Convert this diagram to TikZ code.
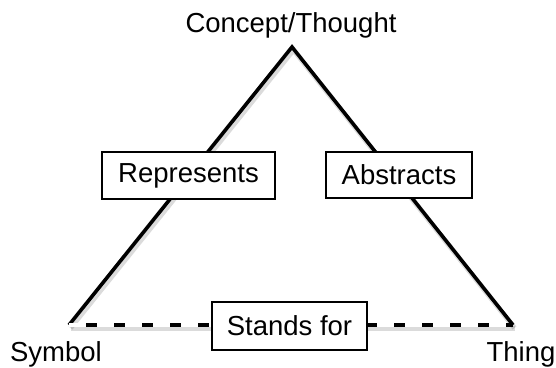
\documentclass[tikz,border=0pt]{standalone}
\usepackage{fontspec}
\setmainfont{Liberation Sans}
\begin{document}
\begin{tikzpicture}[x=1pt,y=-1pt,
  lbl/.style={inner sep=0pt,font=\fontsize{27.5}{30}\selectfont},
  labelbox/.style={draw=black,line width=1.5pt,fill=white,inner sep=0pt,
    font=\fontsize{27.5}{30}\selectfont},
  edge/.style={line width=3.6pt,line join=miter,black},
  shadow/.style={line width=5pt,black,opacity=0.14,line join=miter}]
\useasboundingbox (0,0) rectangle (556,367);
\coordinate (apex) at (292,47);
\coordinate (sym) at (69,325);
\coordinate (thg) at (513,325);
% shadows
\draw[shadow] ([shift={(1.5,3)}]sym) -- ([shift={(1.5,3)}]apex) -- ([shift={(1.5,3)}]thg);
\draw[shadow] ([shift={(1.5,3)}]sym) -- ([shift={(1.5,3)}]thg);
% triangle
\draw[edge] (sym) -- (apex) -- (thg);
\draw[line width=3.6pt,white] (sym) -- (thg);
\draw[line width=3.6pt,black,dash pattern=on 11pt off 17pt,dash phase=11pt] (sym) -- (thg);
% labels
\node[lbl] (concept) at (291,25) {Concept/Thought};
\node[lbl] (symbol) at (56,354) {Symbol};
\node[lbl] (thing) at (521,354) {Thing};
\node[labelbox,minimum width=173pt,minimum height=47pt] (represents) at (188.5,175.5) {Represents};
\node[labelbox,minimum width=146pt,minimum height=46pt] (abstracts) at (399,175) {Abstracts};
\node[labelbox,minimum width=155pt,minimum height=48pt] (standsfor) at (289.5,326) {Stands for};
\end{tikzpicture}
\end{document}
